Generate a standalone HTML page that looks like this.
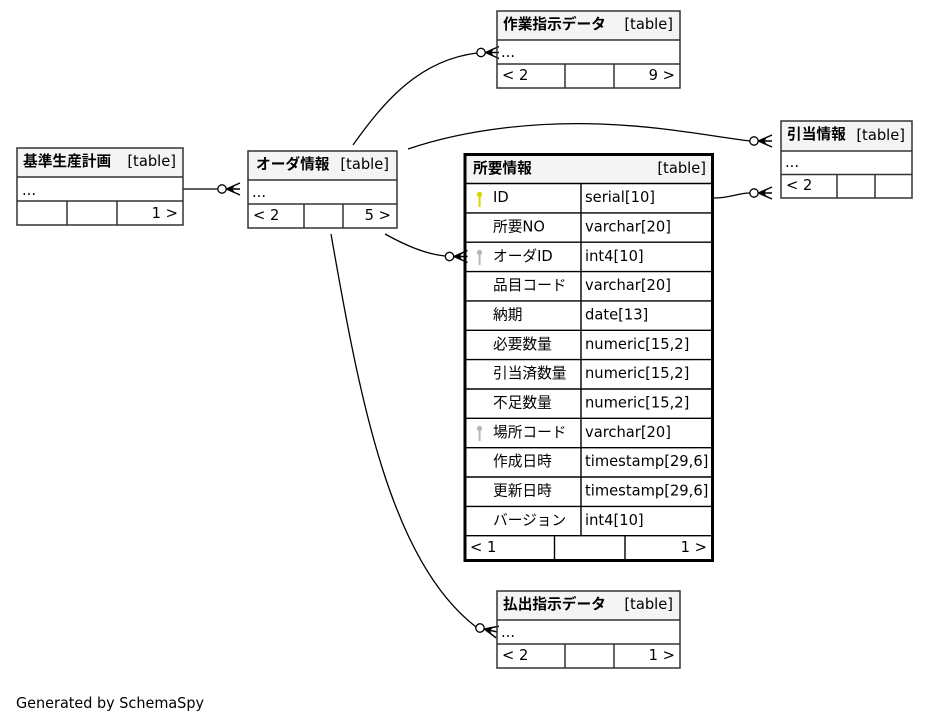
<!DOCTYPE html>
<html>
<head>
<meta charset="utf-8">
<style>
html,body{margin:0;padding:0;background:#fff;}
svg{display:block;}
text{font-family:"DejaVu Sans","Liberation Sans","Noto Sans CJK JP",sans-serif;font-size:14.7px;fill:#000;}
.b{font-weight:bold;}
.e{text-anchor:end;}
</style>
</head>
<body>
<svg width="928" height="723" viewBox="0 0 928 723" xmlns="http://www.w3.org/2000/svg">
<rect x="0" y="0" width="928" height="723" fill="#fff"/>

<!-- edges -->
<g fill="none" stroke="#000" stroke-width="1.3">
  <path d="M183,189 L218,189"/>
  <path d="M353,145 C385,100 420,60 477,53"/>
  <path d="M408,149 C470,128 540,122 600,124 C660,126 710,136 750,141"/>
  <path d="M714,198 C730,198 738,193 750,193"/>
  <path d="M385,234 C405,245 425,254 445,256"/>
  <path d="M331,234 C360,400 390,560 476,627"/>
</g>

<!-- crow's feet with open dot -->
<defs>
  <g id="crow">
    <path d="M4.5,0 L18,-6 M4.5,0 L18,0 M4.5,0 L18,6" stroke="#000" stroke-width="1.5" fill="none"/>
    <path d="M4.5,0 L13,-4 L10.5,0 L13,4 Z" fill="#000"/>
    <circle cx="0" cy="0" r="4.2" fill="#fff" stroke="#000" stroke-width="1.3"/>
  </g>
</defs>
<use href="#crow" transform="translate(222,189)"/>
<use href="#crow" transform="translate(481,52.5)"/>
<use href="#crow" transform="translate(754,141)"/>
<use href="#crow" transform="translate(754,193)"/>
<use href="#crow" transform="translate(449.5,256.5)"/>
<use href="#crow" transform="translate(480,628) rotate(13)"/>

<!-- 基準生産計画 -->
<g>
  <rect x="17" y="148" width="166" height="29" fill="#f4f4f4"/>
  <g stroke="#333" stroke-width="1.5" fill="none">
    <rect x="17" y="148" width="166" height="77"/>
    <line x1="17" y1="177" x2="183" y2="177"/>
    <line x1="17" y1="201" x2="183" y2="201"/>
    <line x1="67" y1="201" x2="67" y2="225"/>
    <line x1="117" y1="201" x2="117" y2="225"/>
  </g>
  <text class="b" x="23" y="166">基準生産計画</text>
  <text class="e" x="176" y="166">[table]</text>
  <text x="22" y="195">...</text>
  <text class="e" x="178" y="218">1 &gt;</text>
</g>

<!-- オーダ情報 -->
<g>
  <rect x="248" y="151" width="149" height="29" fill="#f4f4f4"/>
  <g stroke="#333" stroke-width="1.5" fill="none">
    <rect x="248" y="151" width="149" height="77"/>
    <line x1="248" y1="180" x2="397" y2="180"/>
    <line x1="248" y1="204" x2="397" y2="204"/>
    <line x1="304" y1="204" x2="304" y2="228"/>
    <line x1="343" y1="204" x2="343" y2="228"/>
  </g>
  <text class="b" x="256" y="169">オーダ情報</text>
  <text class="e" x="389" y="169">[table]</text>
  <text x="252" y="197">...</text>
  <text x="253" y="220">&lt; 2</text>
  <text class="e" x="391" y="220">5 &gt;</text>
</g>

<!-- 作業指示データ -->
<g>
  <rect x="497" y="11" width="183" height="29" fill="#f4f4f4"/>
  <g stroke="#333" stroke-width="1.5" fill="none">
    <rect x="497" y="11" width="183" height="77"/>
    <line x1="497" y1="40" x2="680" y2="40"/>
    <line x1="497" y1="64" x2="680" y2="64"/>
    <line x1="565" y1="64" x2="565" y2="88"/>
    <line x1="614" y1="64" x2="614" y2="88"/>
  </g>
  <text class="b" x="503" y="29">作業指示データ</text>
  <text class="e" x="673" y="29">[table]</text>
  <text x="501" y="57">...</text>
  <text x="502" y="80">&lt; 2</text>
  <text class="e" x="675" y="80">9 &gt;</text>
</g>

<!-- 引当情報 -->
<g>
  <rect x="781" y="121" width="131" height="30" fill="#f4f4f4"/>
  <g stroke="#333" stroke-width="1.5" fill="none">
    <rect x="781" y="121" width="131" height="77"/>
    <line x1="781" y1="151" x2="912" y2="151"/>
    <line x1="781" y1="174.5" x2="912" y2="174.5"/>
    <line x1="837" y1="174.5" x2="837" y2="198"/>
    <line x1="875" y1="174.5" x2="875" y2="198"/>
  </g>
  <text class="b" x="787" y="139">引当情報</text>
  <text class="e" x="905" y="140">[table]</text>
  <text x="785" y="167">...</text>
  <text x="786" y="190">&lt; 2</text>
</g>

<!-- 払出指示データ -->
<g>
  <rect x="497" y="591" width="183" height="29" fill="#f4f4f4"/>
  <g stroke="#333" stroke-width="1.5" fill="none">
    <rect x="497" y="591" width="183" height="77"/>
    <line x1="497" y1="620" x2="680" y2="620"/>
    <line x1="497" y1="644" x2="680" y2="644"/>
    <line x1="565" y1="644" x2="565" y2="668"/>
    <line x1="614" y1="644" x2="614" y2="668"/>
  </g>
  <text class="b" x="503" y="609">払出指示データ</text>
  <text class="e" x="673" y="609">[table]</text>
  <text x="501" y="637">...</text>
  <text x="502" y="660">&lt; 2</text>
  <text class="e" x="675" y="660">1 &gt;</text>
</g>

<!-- 所要情報 (main) -->
<g>
  <rect x="465" y="155" width="247" height="29" fill="#f4f4f4"/>
  <g stroke="#000" stroke-width="1.4" fill="none">
    <line x1="465" y1="183.5" x2="712" y2="183.5"/>
    <line x1="465" y1="212.9" x2="712" y2="212.9"/>
    <line x1="465" y1="242.2" x2="712" y2="242.2"/>
    <line x1="465" y1="271.6" x2="712" y2="271.6"/>
    <line x1="465" y1="300.9" x2="712" y2="300.9"/>
    <line x1="465" y1="330.3" x2="712" y2="330.3"/>
    <line x1="465" y1="359.6" x2="712" y2="359.6"/>
    <line x1="465" y1="389" x2="712" y2="389"/>
    <line x1="465" y1="418.3" x2="712" y2="418.3"/>
    <line x1="465" y1="447.7" x2="712" y2="447.7"/>
    <line x1="465" y1="477" x2="712" y2="477"/>
    <line x1="465" y1="506.4" x2="712" y2="506.4"/>
    <line x1="465" y1="535.7" x2="712" y2="535.7"/>
    <line x1="581" y1="183.5" x2="581" y2="535.7"/>
    <line x1="554.5" y1="535.7" x2="554.5" y2="560"/>
    <line x1="625" y1="535.7" x2="625" y2="560"/>
  </g>
  <rect x="465" y="154.5" width="247.5" height="406" fill="none" stroke="#000" stroke-width="3"/>
  <text class="b" x="473" y="173">所要情報</text>
  <text class="e" x="706" y="173">[table]</text>

  <!-- keys -->
  <g fill="#d8d800">
    <circle cx="479.5" cy="194.5" r="2.7"/>
    <rect x="478.6" y="196" width="2" height="11"/>
  </g>
  <g fill="#b8b8b8">
    <circle cx="479.5" cy="252.5" r="2.7"/>
    <rect x="478.6" y="254" width="2" height="11"/>
    <circle cx="479.5" cy="428.5" r="2.7"/>
    <rect x="478.6" y="430" width="2" height="11"/>
  </g>

  <text x="493" y="202">ID</text>
  <text x="585" y="202">serial[10]</text>
  <text x="493" y="231.5">所要NO</text>
  <text x="585" y="231.5">varchar[20]</text>
  <text x="493" y="261">オーダID</text>
  <text x="585" y="261">int4[10]</text>
  <text x="493" y="290">品目コード</text>
  <text x="585" y="290">varchar[20]</text>
  <text x="493" y="319.5">納期</text>
  <text x="585" y="319.5">date[13]</text>
  <text x="493" y="349">必要数量</text>
  <text x="585" y="349">numeric[15,2]</text>
  <text x="493" y="378">引当済数量</text>
  <text x="585" y="378">numeric[15,2]</text>
  <text x="493" y="407.5">不足数量</text>
  <text x="585" y="407.5">numeric[15,2]</text>
  <text x="493" y="437">場所コード</text>
  <text x="585" y="437">varchar[20]</text>
  <text x="493" y="466">作成日時</text>
  <text x="585" y="466">timestamp[29,6]</text>
  <text x="493" y="495.5">更新日時</text>
  <text x="585" y="495.5">timestamp[29,6]</text>
  <text x="493" y="525">バージョン</text>
  <text x="585" y="525">int4[10]</text>

  <text x="470" y="552">&lt; 1</text>
  <text class="e" x="707" y="552">1 &gt;</text>
</g>

<text x="16" y="708" textLength="188" lengthAdjust="spacingAndGlyphs">Generated by SchemaSpy</text>
</svg>
</body>
</html>
